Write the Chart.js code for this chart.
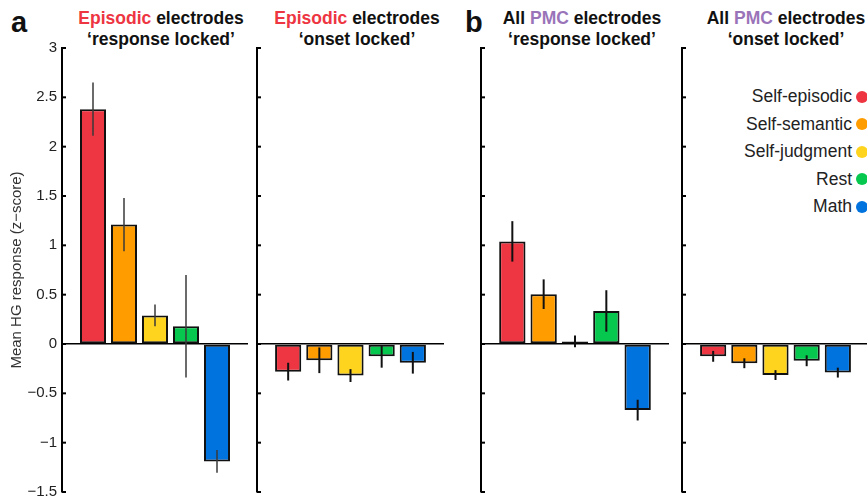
<!DOCTYPE html>
<html>
<head>
<meta charset="utf-8">
<script src="https://cdn.jsdelivr.net/npm/chart.js@4.4.1/dist/chart.umd.min.js"></script>
<style>
  html, body { margin: 0; padding: 0; background: #fff; }
  body { width: 867px; height: 497px; position: relative; overflow: hidden;
         font-family: 'Liberation Sans', Arial, sans-serif; }
  canvas { position: absolute; top: 0; }
  .title { position: absolute; top: 8px; font-weight: bold; font-size: 17.5px; line-height: 21px;
           text-align: center; color: #111; white-space: nowrap; transform: translateX(-50%); }
  .red { color: #ee3542; }
  .purple { color: #9a74b9; }
  .letter { position: absolute; top: 8px; font-weight: bold; font-size: 29px; line-height: 29px; color: #111; }
  #legend { position: absolute; left: 668px; top: 83px; width: 200px; }
  #legend .row { display: flex; justify-content: flex-end; align-items: center; height: 27.5px;
                 font-size: 17.5px; color: #222; }
  #legend .dot { width: 12px; height: 12px; border-radius: 50%; margin-left: 4px; }
</style>
</head>
<body>
<div class="letter" style="left:11px">a</div>
<div class="letter" style="left:465px">b</div>
<div class="title" style="left:161px"><span class="red">Episodic</span> electrodes<br>‘response locked’</div>
<div class="title" style="left:357px"><span class="red">Episodic</span> electrodes<br>‘onset locked’</div>
<div class="title" style="left:582px">All <span class="purple">PMC</span> electrodes<br>‘response locked’</div>
<div class="title" style="left:786px">All <span class="purple">PMC</span> electrodes<br>‘onset locked’</div>
<div id="legend"></div>
<script>
var categories = ['Self-episodic', 'Self-semantic', 'Self-judgment', 'Rest', 'Math'];
var barColors  = ['#ee3542', '#ff9d00', '#ffd41f', '#06c84f', '#0073df'];

var episodicResponse    = [2.38, 1.21, 0.29, 0.18, -1.19];
var episodicResponseErr = [0.27, 0.27, 0.11, 0.52, 0.115];
var episodicOnset       = [-0.28, -0.165, -0.32, -0.125, -0.19];
var episodicOnsetErr    = [0.09, 0.13, 0.065, 0.115, 0.11];
var pmcResponse         = [1.04, 0.505, 0.026, 0.335, -0.67];
var pmcResponseErr      = [0.205, 0.15, 0.06, 0.21, 0.105];
var pmcOnset            = [-0.125, -0.195, -0.315, -0.17, -0.29];
var pmcOnsetErr         = [0.055, 0.05, 0.05, 0.055, 0.05];

var yMin = -1.5, yMax = 3, yStep = 0.5;

// legend
var legend = document.getElementById('legend');
categories.forEach(function (c, i) {
    var row = document.createElement('div');
    row.className = 'row';
    row.innerHTML = '<span>' + c + '</span><span class="dot" style="background:' + barColors[i] + '"></span>';
    legend.appendChild(row);
});

var errorBars = {
    id: 'errorBars',
    afterDatasetsDraw: function (chart) {
        var ds = chart.data.datasets[0];
        var meta = chart.getDatasetMeta(0);
        var y = chart.scales.y;
        var ctx = chart.ctx;
        ctx.save();
        ctx.strokeStyle = ds.errorColor;
        ctx.lineWidth = ds.errorWidth;
        meta.data.forEach(function (bar, i) {
            var v = ds.data[i], e = ds.errors[i];
            if (v == null) return;
            ctx.beginPath();
            ctx.moveTo(bar.x, y.getPixelForValue(v - e));
            ctx.lineTo(bar.x, y.getPixelForValue(v + e));
            ctx.stroke();
        });
        ctx.restore();
    }
};

// small ticks pointing into the plot
var innerTicks = {
    id: 'innerTicks',
    afterDraw: function (chart) {
        var y = chart.scales.y;
        var ctx = chart.ctx;
        var x0 = chart.chartArea.left;
        ctx.save();
        ctx.strokeStyle = '#000';
        ctx.lineWidth = 2;
        y.ticks.forEach(function (t) {
            var py = y.getPixelForValue(t.value);
            ctx.beginPath();
            ctx.moveTo(x0, py);
            ctx.lineTo(x0 + 4, py);
            ctx.stroke();
        });
        ctx.restore();
    }
};

function drawPanel(p) {
    var canvas = document.createElement('canvas');
    canvas.width = p.right + 2 - p.left;
    canvas.height = 510;
    canvas.style.left = p.left + 'px';
    document.body.appendChild(canvas);

    new Chart(canvas, {
        type: 'bar',
        data: {
            labels: [''].concat(categories, ['']),
            datasets: [{
                data: [null].concat(p.values, [null]),
                errors: [null].concat(p.errors, [null]),
                backgroundColor: ['#fff'].concat(barColors, ['#fff']),
                borderColor: '#111',
                borderWidth: 2,
                borderSkipped: false,
                barPercentage: 1,
                categoryPercentage: 0.84,
                errorColor: p.errorColor,
                errorWidth: p.errorWidth
            }]
        },
        options: {
            responsive: false,
            animation: false,
            layout: { padding: { top: 48, bottom: 18, left: 0, right: 2 } },
            plugins: {
                legend:  { display: false },
                tooltip: { enabled: false }
            },
            scales: {
                x: { display: false, offset: false },
                y: {
                    min: yMin, max: yMax,
                    ticks: {
                        stepSize: yStep,
                        display: p.labels,
                        padding: 5,
                        color: '#222',
                        font: { family: 'Liberation Sans', size: 15 },
                        callback: function (v) { return String(v).replace('-', '\u2212'); }
                    },
                    grid: {
                        drawTicks: false,
                        lineWidth: 1.5,
                        color: function (ctx) {
                            return ctx.tick && ctx.tick.value === 0 ? '#000' : 'rgba(0,0,0,0)';
                        }
                    },
                    border: { display: true, color: '#000', width: 2 },
                    title: {
                        display: p.labels,
                        text: 'Mean HG response (z\u2212score)',
                        color: '#333',
                        font: { family: 'Liberation Sans', size: 15 },
                        padding: { top: 8, bottom: 0 }
                    },
                    afterFit: function (s) { s.width = p.axisX - p.left; }
                }
            }
        },
        plugins: [errorBars, innerTicks]
    });
}

drawPanel({ left: 0,   axisX: 62,  right: 248, values: episodicResponse, errors: episodicResponseErr, labels: true,  errorColor: '#3a3a3a', errorWidth: 1.5 });
drawPanel({ left: 247, axisX: 257, right: 444, values: episodicOnset,    errors: episodicOnsetErr,    labels: false, errorColor: '#111', errorWidth: 2 });
drawPanel({ left: 471, axisX: 481, right: 669, values: pmcResponse,      errors: pmcResponseErr,      labels: false, errorColor: '#111', errorWidth: 2 });
drawPanel({ left: 672, axisX: 682, right: 869, values: pmcOnset,         errors: pmcOnsetErr,         labels: false, errorColor: '#111', errorWidth: 2 });
</script>
</body>
</html>
